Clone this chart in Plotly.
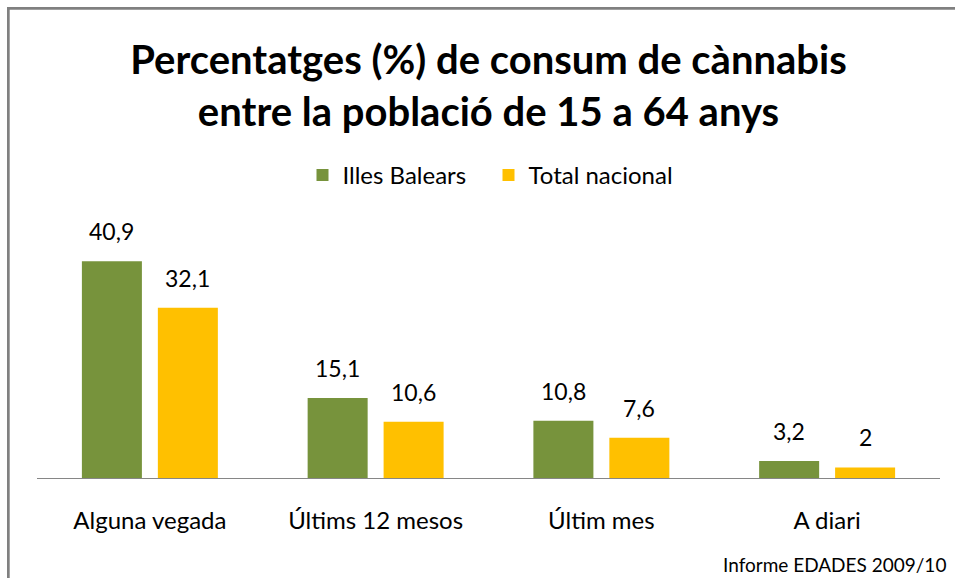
import plotly.graph_objects as go

categories = ["Alguna vegada", "Últims 12 mesos", "Últim mes", "A diari"]
illes_balears = [40.9, 15.1, 10.8, 3.2]
total_nacional = [32.1, 10.6, 7.6, 2.0]
series_names = ["Illes Balears", "Total nacional"]
title_lines = ["Percentatges (%) de consum de cànnabis", "entre la població de 15 a 64 anys"]
source_text = "Informe EDADES 2009/10"

W, H = 955, 578
ML, MR, MT, MB = 37, 15, 190, 100
PW, PH = W - ML - MR, H - MT - MB
FONT = "Lato"

def px_to_paper_x(px):
    return (px - ML) / PW

def px_to_paper_y(py):
    return (H - MB - py) / PH

def fmt(v):
    return (f"{v:.1f}".rstrip("0").rstrip(".")).replace(".", ",")

colors = ["#77933C", "#FFC000"]
fig = go.Figure()
for name, vals, col in zip(series_names, [illes_balears, total_nacional], colors):
    fig.add_trace(go.Bar(name=name, x=categories, y=vals, marker=dict(color=col, line=dict(width=0)),
                         hoverinfo="skip"))

slot = PW / len(categories) * (1 - 0.327) / 2
annotations = []
for i, vals in enumerate([illes_balears, total_nacional]):
    shift = (i - 0.5) * slot
    for c, v in zip(categories, vals):
        annotations.append(dict(x=c, y=v, xref="x", yref="y", text=fmt(v), showarrow=False,
                                xshift=shift, yanchor="bottom", yshift=14,
                                font=dict(family=FONT, size=23, color="#000000")))
annotations.append(dict(x=px_to_paper_x(948), y=px_to_paper_y(578), xref="paper", yref="paper",
                        text=source_text, showarrow=False, xanchor="right", yanchor="bottom",
                        font=dict(family=FONT, size=19, color="#000000")))

fig.update_layout(
    width=W, height=H,
    margin=dict(l=ML, r=MR, t=MT, b=MB),
    paper_bgcolor="white", plot_bgcolor="white",
    barmode="group", bargap=0.327, bargroupgap=0.21,
    title=dict(text="<b>" + "<br>".join(title_lines) + "</b>", x=0.5, xref="paper",
               y=1 - 74 / H, yref="container", yanchor="top",
               font=dict(family=FONT, size=40, color="#000000")),
    legend=dict(orientation="h", x=0.5, xanchor="center", y=px_to_paper_y(153), yanchor="top",
                font=dict(family=FONT, size=24, color="#000000"), traceorder="normal",
                itemwidth=30, entrywidth=141, bgcolor="rgba(0,0,0,0)"),
    xaxis=dict(showline=True, linecolor="#868686", linewidth=1, ticks="", showgrid=False,
               tickfont=dict(family=FONT, size=24, color="#000000"), ticklabelstandoff=21),
    yaxis=dict(visible=False, range=[0, PH / 5.3], showgrid=False, zeroline=False),
    annotations=annotations,
    showlegend=True,
)
fig.add_shape(type="line", xref="paper", yref="paper",
              x0=px_to_paper_x(7), x1=px_to_paper_x(W + 10), y0=px_to_paper_y(8.35), y1=px_to_paper_y(8.35),
              line=dict(color="#808080", width=2.7))
fig.add_shape(type="line", xref="paper", yref="paper",
              x0=px_to_paper_x(8.35), x1=px_to_paper_x(8.35), y0=px_to_paper_y(7), y1=px_to_paper_y(H + 10),
              line=dict(color="#808080", width=2.7))
fig.write_html("out.html", config={"displayModeBar": False},
               post_script="document.body.style.margin='0';document.body.style.overflow='hidden';")
